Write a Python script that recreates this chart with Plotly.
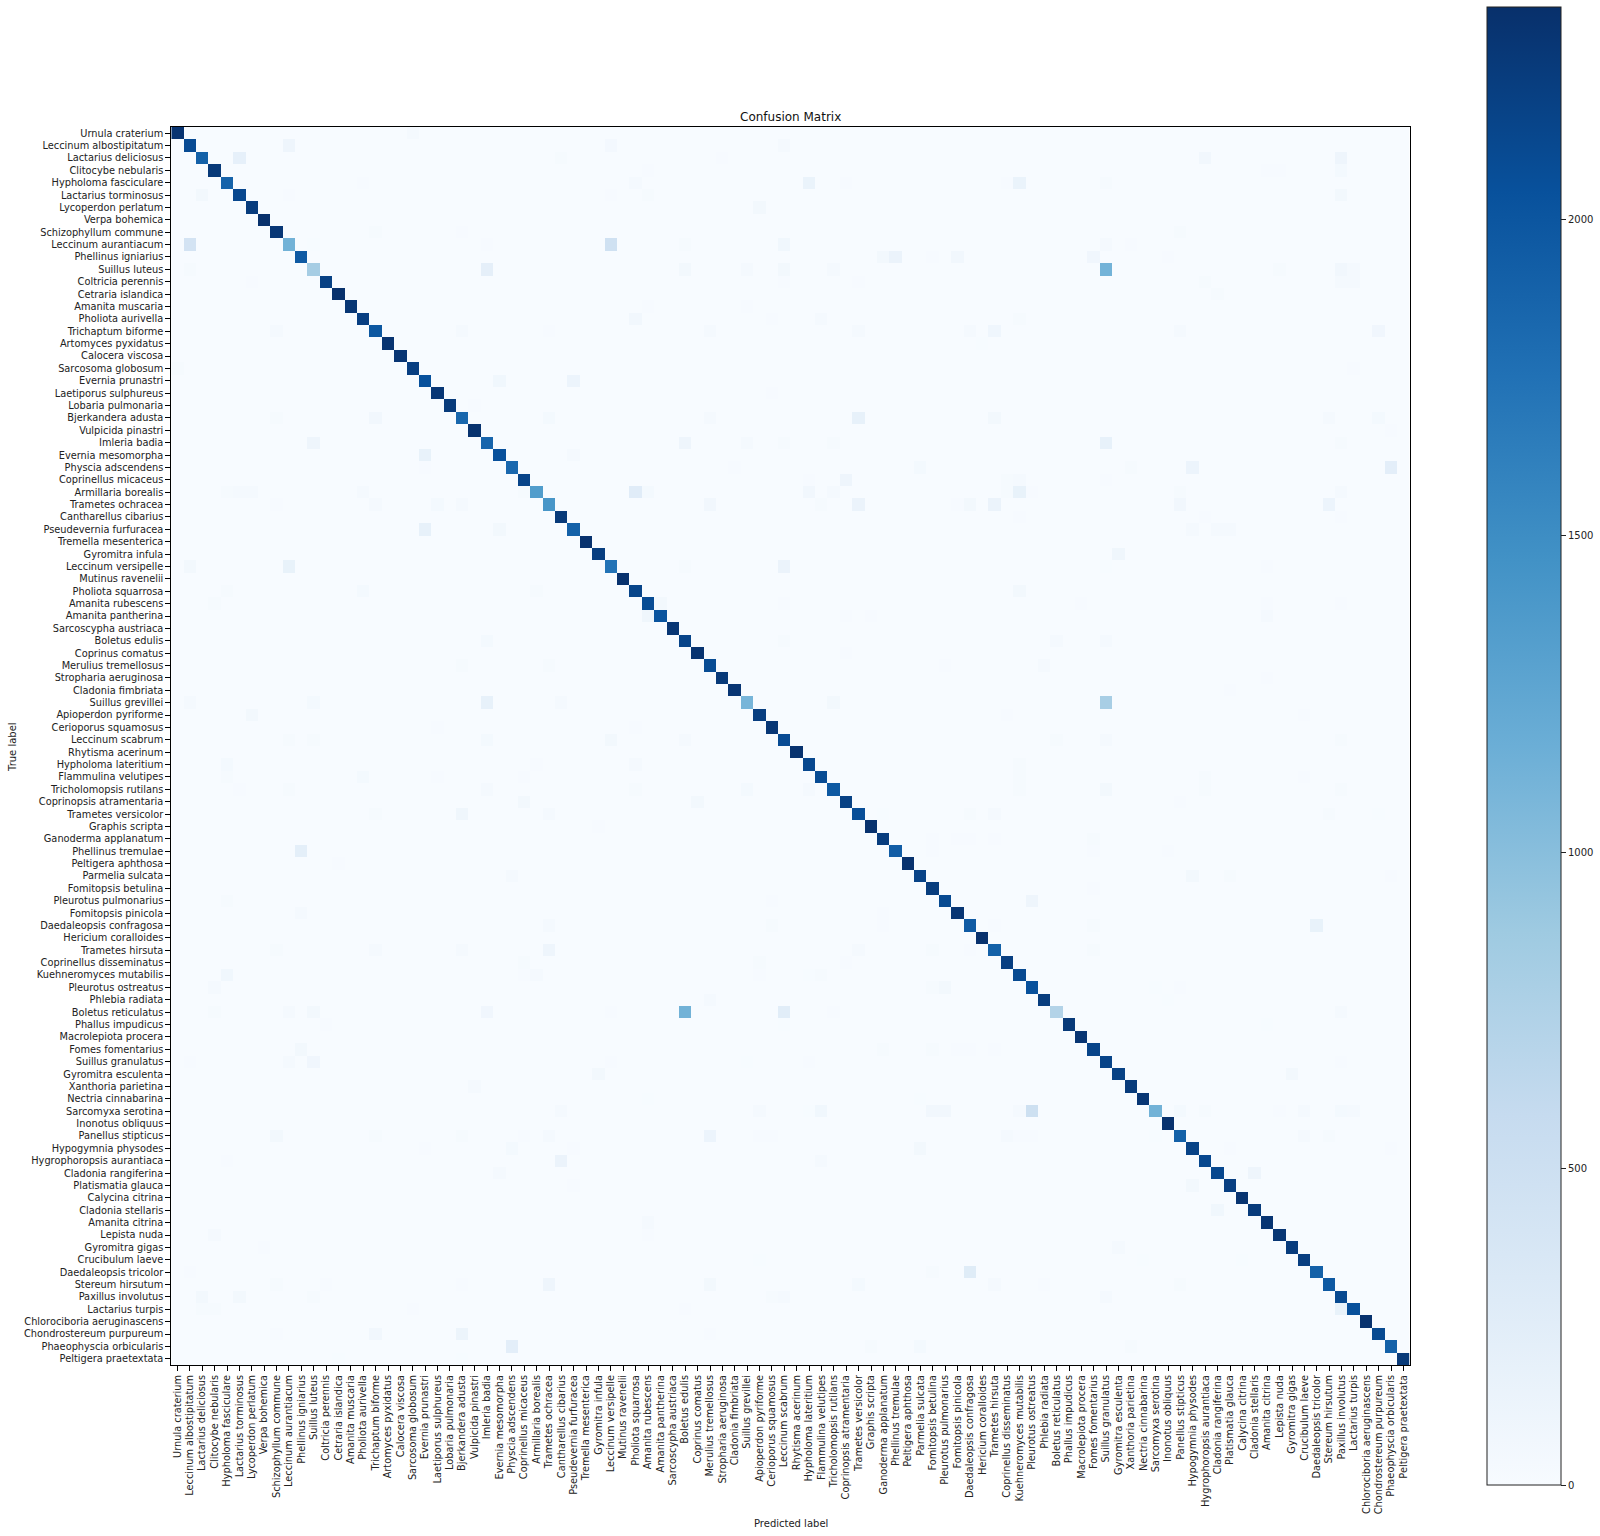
import plotly.graph_objects as go

labels = ["Urnula craterium","Leccinum albostipitatum","Lactarius deliciosus","Clitocybe nebularis","Hypholoma fasciculare","Lactarius torminosus","Lycoperdon perlatum","Verpa bohemica","Schizophyllum commune","Leccinum aurantiacum","Phellinus igniarius","Suillus luteus","Coltricia perennis","Cetraria islandica","Amanita muscaria","Pholiota aurivella","Trichaptum biforme","Artomyces pyxidatus","Calocera viscosa","Sarcosoma globosum","Evernia prunastri","Laetiporus sulphureus","Lobaria pulmonaria","Bjerkandera adusta","Vulpicida pinastri","Imleria badia","Evernia mesomorpha","Physcia adscendens","Coprinellus micaceus","Armillaria borealis","Trametes ochracea","Cantharellus cibarius","Pseudevernia furfuracea","Tremella mesenterica","Gyromitra infula","Leccinum versipelle","Mutinus ravenelii","Pholiota squarrosa","Amanita rubescens","Amanita pantherina","Sarcoscypha austriaca","Boletus edulis","Coprinus comatus","Merulius tremellosus","Stropharia aeruginosa","Cladonia fimbriata","Suillus grevillei","Apioperdon pyriforme","Cerioporus squamosus","Leccinum scabrum","Rhytisma acerinum","Hypholoma lateritium","Flammulina velutipes","Tricholomopsis rutilans","Coprinopsis atramentaria","Trametes versicolor","Graphis scripta","Ganoderma applanatum","Phellinus tremulae","Peltigera aphthosa","Parmelia sulcata","Fomitopsis betulina","Pleurotus pulmonarius","Fomitopsis pinicola","Daedaleopsis confragosa","Hericium coralloides","Trametes hirsuta","Coprinellus disseminatus","Kuehneromyces mutabilis","Pleurotus ostreatus","Phlebia radiata","Boletus reticulatus","Phallus impudicus","Macrolepiota procera","Fomes fomentarius","Suillus granulatus","Gyromitra esculenta","Xanthoria parietina","Nectria cinnabarina","Sarcomyxa serotina","Inonotus obliquus","Panellus stipticus","Hypogymnia physodes","Hygrophoropsis aurantiaca","Cladonia rangiferina","Platismatia glauca","Calycina citrina","Cladonia stellaris","Amanita citrina","Lepista nuda","Gyromitra gigas","Crucibulum laeve","Daedaleopsis tricolor","Stereum hirsutum","Paxillus involutus","Lactarius turpis","Chlorociboria aeruginascens","Chondrostereum purpureum","Phaeophyscia orbicularis","Peltigera praetextata"]

diagonal = [2300,2100,1900,2250,1880,2130,2230,2330,2270,1130,1960,820,2190,2330,2280,2200,1980,2300,2290,2200,
            2040,2270,2240,1840,2310,1860,2050,1830,2160,1350,1420,2250,1900,2320,2210,1730,2320,2150,2090,2020,
            2280,2160,2300,2090,2250,2290,1100,2210,2270,2100,2310,2120,2090,1970,2180,2070,2320,2220,1930,2320,
            2170,2220,2110,2280,1950,2320,1900,2200,2110,2040,2220,720,2250,2290,2160,2160,2180,2240,2280,1130,
            2320,1900,2170,2120,2120,2200,2300,2240,2290,2280,2230,2210,1900,1970,2110,2050,2320,2110,1900,2250]

off_entries = """0 19 30;1 9 105;1 35 50;1 49 40;2 5 200;2 31 25;2 44 12;3 38 12;4 15 15;4 37 30;4 51 150;5 2 55;5 9 15;5 35 15;5 38 25;6 47 60;8 16 25;8 23 15;9 1 430;9 35 470;9 49 80;9 25 15;9 41 25;9 11 8;11 1 25;11 25 210;11 41 60;11 46 40;11 49 55;12 6 15;12 49 15;14 38 10;14 46 10;15 37 75;15 48 15;16 8 30;16 23 30;16 30 15;16 43 40;19 0 25;20 26 80;20 32 125;21 48 12;22 24 10;23 8 25;23 16 70;23 30 45;23 43 40;25 11 105;25 41 105;25 46 40;25 49 25;26 20 170;26 32 30;27 20 15;27 45 10;29 4 25;29 5 30;29 6 30;29 15 30;29 28 25;29 37 270;29 38 45;29 51 75;30 8 15;30 16 40;30 21 45;30 23 40;30 43 70;32 20 190;32 26 55;35 41 25;35 1 60;35 9 170;35 49 140;37 4 20;37 15 45;37 29 20;38 3 25;38 49 15;38 39 55;39 38 95;41 25 45;41 49 20;43 23 25;43 30 25;46 1 40;46 11 45;46 25 190;46 31 30;47 6 60;48 21 10;48 37 12;49 9 20;49 11 20;49 25 45;49 35 60;49 41 30;51 4 45;51 37 30;
2 83 70;2 94 110;3 94 45;3 88 15;3 89 15;4 54 15;4 68 150;4 67 15;4 75 20;5 94 60;8 81 20;9 75 30;9 77 15;10 57 60;10 58 140;10 61 15;10 63 70;10 74 85;10 80 15;11 75 1120;11 53 30;12 55 15;11 89 25;11 94 70;11 95 30;12 94 40;12 95 40;12 83 20;13 84 20;15 52 40;15 68 25;16 55 40;16 64 30;16 66 90;16 81 40;16 97 85;17 65 8;19 95 15;23 55 190;23 66 55;23 93 30;23 97 45;24 98 15;25 75 190;25 53 20;25 94 25;27 60 45;27 77 20;27 82 125;27 98 230;28 51 15;28 54 110;28 67 20;28 68 30;28 75 12;29 53 30;29 67 20;29 68 170;29 69 12;29 81 20;29 94 40;30 52 20;30 55 140;30 63 12;30 64 55;30 66 140;30 81 75;30 93 125;31 68 15;31 94 12;31 83 15;32 82 30;32 84 30;32 85 30;34 76 95;35 88 12;35 75 8;37 68 55;38 73 12;38 88 10;38 94 10;39 88 40;39 54 12;39 56 12;41 71 30;41 75 30;42 54 12;43 62 12;43 70 40;44 88 15;45 85 10;46 53 55;46 75 800;47 67 10;47 91 12;49 71 20;49 75 40;49 94 20;51 68 25;
52 4 25;52 15 45;52 21 15;52 28 15;51 29 15;53 5 15;53 9 20;53 25 40;53 37 20;53 46 45;53 51 30;54 28 60;54 42 55;55 16 20;55 23 95;55 30 40;56 34 15;58 10 220;59 13 12;60 27 40;62 4 25;62 48 10;63 10 30;64 30 30;64 48 25;66 8 25;66 16 40;66 23 30;66 30 110;67 28 20;67 47 25;68 4 80;68 28 15;68 29 40;68 47 15;69 3 30;70 43 30;71 3 20;71 9 40;71 11 55;71 25 85;71 35 15;71 41 1130;71 49 260;72 49 8;72 12 12;74 10 55;75 1 12;75 9 40;75 11 85;75 35 12;75 46 8;76 34 55;77 24 40;78 38 8;79 31 40;79 47 40;81 8 55;81 16 20;81 23 20;81 28 12;81 30 40;81 43 125;81 47 15;81 48 12;82 20 15;82 27 45;82 32 12;83 4 15;83 31 140;84 26 30;85 32 10;88 38 40;89 3 30;89 38 10;90 7 12;91 47 8;92 1 12;93 8 20;93 12 15;93 23 12;93 30 110;93 43 55;94 2 60;94 5 55;94 11 20;94 48 20;94 49 40;95 2 20;95 3 20;95 19 15;95 41 12;97 8 15;97 16 70;97 23 130;97 43 12;98 27 230;99 13 6;99 23 6;
52 68 25;53 68 25;53 75 55;52 83 20;53 83 20;53 94 25;52 91 10;54 81 10;55 64 20;55 66 30;55 93 25;55 97 8;55 57 8;57 61 12;58 61 15;57 63 10;57 64 10;57 66 15;57 74 25;58 74 12;58 80 12;60 82 60;60 85 25;60 98 10;61 74 10;62 69 110;63 57 10;64 57 15;64 66 15;64 74 20;64 92 170;66 55 40;66 61 25;66 64 15;66 74 25;67 54 10;68 52 25;68 51 8;69 61 25;69 62 60;69 79 8;69 81 12;70 80 8;71 53 15;71 94 40;72 88 8;74 57 20;74 61 25;74 63 10;74 64 10;74 66 12;75 51 10;75 94 10;76 90 60;78 60 8;79 52 80;79 51 8;79 61 70;79 62 70;79 68 30;79 69 500;79 81 45;79 83 25;79 89 10;79 91 40;79 94 45;79 95 40;81 67 40;81 68 15;81 69 12;81 79 8;81 91 30;81 93 25;82 60 60;82 85 12;82 98 10;83 52 30;84 87 110;85 82 55;87 84 80;90 76 40;91 78 6;91 86 6;92 61 25;92 64 280;93 55 45;93 66 40;93 70 10;93 81 25;94 75 30;95 94 170;98 56 25;98 60 45;98 77 25"""

blues = ["#f7fbff","#deebf7","#c6dbef","#9ecae1","#6baed6","#4292c6","#2171b5","#08519c","#08306b"]
colorbar_ticks = [0, 500, 1000, 1500, 2000]
vmax = 2336

n = len(labels)
z = [[0] * n for _ in range(n)]
for i, v in enumerate(diagonal):
    z[i][i] = v
for item in off_entries.replace("\n", "").split(";"):
    r, c, v = map(int, item.split())
    z[r][c] = v

W, H = 1600, 1536
L, R, T, B = 171.3, 1409.7, 127.0, 1365.0
font = "DejaVu Sans"

fig = go.Figure(go.Heatmap(
    z=z, x=list(range(n)), y=list(range(n)),
    colorscale=[[i / 8, c] for i, c in enumerate(blues)],
    zmin=0, zmax=vmax,
    colorbar=dict(
        thicknessmode="pixels", thickness=74,
        lenmode="pixels", len=1478,
        x=1487 / W, xanchor="left", xpad=0,
        y=1 - 7 / H, yanchor="top", ypad=0,
        outlinecolor="#222222", outlinewidth=1,
        tickmode="array", tickvals=colorbar_ticks, ticktext=[str(t) for t in colorbar_ticks],
        ticks="outside", ticklen=5, tickcolor="#222222", tickwidth=1,
        tickfont=dict(family=font, size=10, color="#222222"),
    ),
))
common = dict(
    tickmode="array", tickvals=list(range(n)), ticktext=labels,
    ticks="outside", ticklen=5, tickwidth=1, tickcolor="#000000",
    tickfont=dict(family=font, size=9.8, color="#222222"),
    showgrid=False, zeroline=False,
    showline=True, linecolor="#000000", linewidth=1, mirror=True,
)
fig.update_xaxes(range=[-0.5, n - 0.5], domain=[L / W, R / W], tickangle=-90, **common)
fig.update_yaxes(range=[n - 0.5, -0.5], domain=[1 - B / H, 1 - T / H], **common)
fig.update_layout(
    width=W, height=H, margin=dict(l=0, r=0, t=0, b=0),
    paper_bgcolor="white", plot_bgcolor="white",
    font=dict(family=font),
    annotations=[
        dict(text="Confusion Matrix", x=(L + R) / 2 / W, y=1 - 117 / H, xref="paper", yref="paper",
             showarrow=False, font=dict(family=font, size=12, color="#111111"), xanchor="center", yanchor="middle"),
        dict(text="Predicted label", x=(L + R) / 2 / W, y=1 - 1523 / H, xref="paper", yref="paper",
             showarrow=False, font=dict(family=font, size=10, color="#222222"), xanchor="center", yanchor="middle"),
        dict(text="True label", x=12.5 / W, y=1 - 747.5 / H, xref="paper", yref="paper", textangle=-90,
             showarrow=False, font=dict(family=font, size=10, color="#222222"), xanchor="center", yanchor="middle"),
    ],
)
fig.write_html("out.html", config={"displayModeBar": False},
               post_script="document.body.style.margin='0';document.body.style.overflow='hidden';")
